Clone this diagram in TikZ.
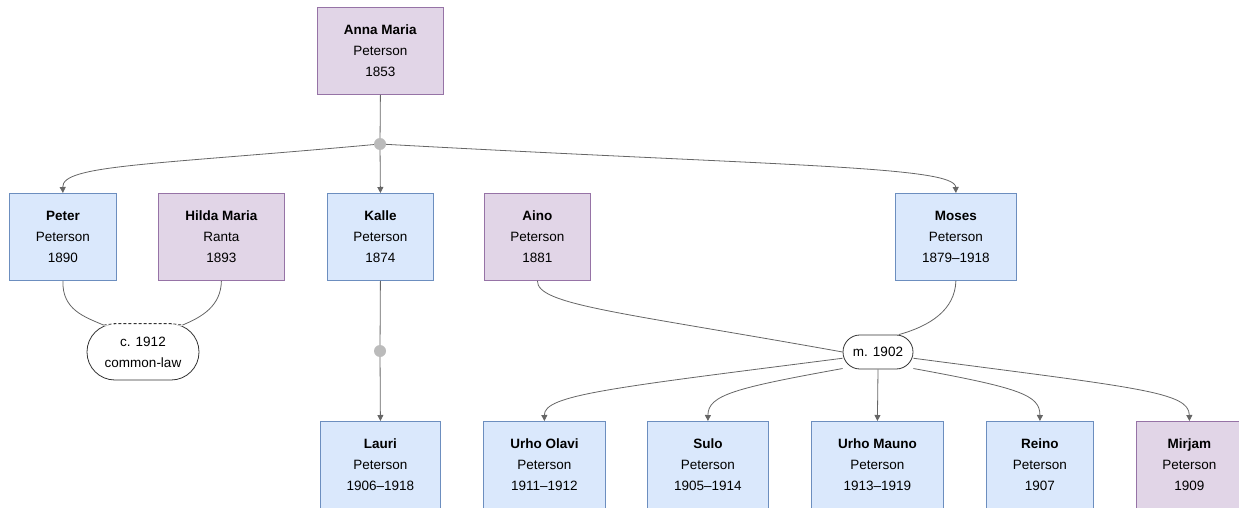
\documentclass[tikz,border=0pt]{standalone}
\usepackage{fontspec}
\setmainfont{Liberation Sans}
\usetikzlibrary{arrows.meta,calc}
\definecolor{bluefill}{HTML}{DAE8FC}
\definecolor{bluedraw}{HTML}{6C8EBF}
\definecolor{purpfill}{HTML}{E1D5E7}
\definecolor{purpdraw}{HTML}{9673A6}
\definecolor{edgegray}{HTML}{666666}
\definecolor{dotgray}{HTML}{BBBBBB}
\tikzset{
  person/.style={rectangle, draw, line width=0.8pt, inner sep=0pt, align=center,
    minimum height=87pt, anchor=north west,
    font=\fontsize{13.5}{21}\selectfont},
  male/.style={person, fill=bluefill, draw=bluedraw},
  female/.style={person, fill=purpfill, draw=purpdraw},
  junction/.style={circle, fill=dotgray, inner sep=0pt, minimum size=12pt},
  union/.style={rectangle, fill=white, draw=black!80, line width=0.8pt, align=center,
    inner sep=0pt, font=\fontsize{13.5}{21}\selectfont},
  link/.style={draw=edgegray, line width=0.8pt},
  arr/.style={link, -{Triangle[length=6pt,width=6pt]}},
}
\begin{document}
\begin{tikzpicture}[x=1pt,y=-1pt]
\useasboundingbox (0,0) rectangle (1239,508);

% generation 1
\node[female, minimum width=126pt] (anna) at (317,7) {\textbf{Anna Maria}\\Peterson\\1853};

% generation 2
\node[male, minimum width=107pt] (peter) at (9,193) {\textbf{Peter}\\Peterson\\1890};
\node[female, minimum width=126pt] (hilda) at (158,193) {\textbf{Hilda Maria}\\Ranta\\1893};
\node[male, minimum width=106pt] (kalle) at (327,193) {\textbf{Kalle}\\Peterson\\1874};
\node[female, minimum width=106pt] (aino) at (484,193) {\textbf{Aino}\\Peterson\\1881};
\node[male, minimum width=121pt] (moses) at (895,193) {\textbf{Moses}\\Peterson\\1879–1918};

% generation 3
\node[male, minimum width=120pt] (lauri) at (320,421) {\textbf{Lauri}\\Peterson\\1906–1918};
\node[male, minimum width=122pt] (urhoo) at (483,421) {\textbf{Urho Olavi}\\Peterson\\1911–1912};
\node[male, minimum width=121pt] (sulo) at (647,421) {\textbf{Sulo}\\Peterson\\1905–1914};
\node[male, minimum width=132pt] (urhom) at (811,421) {\textbf{Urho Mauno}\\Peterson\\1913–1919};
\node[male, minimum width=107pt] (reino) at (986,421) {\textbf{Reino}\\Peterson\\1907};
\node[female, minimum width=106pt] (mirjam) at (1136,421) {\textbf{Mirjam}\\Peterson\\1909};

% junctions and unions (stadium shapes)
\node[junction] (j1) at (380,144) {};
\node[junction] (j2) at (380,351) {};
\node[union, minimum width=112pt, minimum height=56pt, rounded corners=27.9pt] (cl) at (143,352) {c. 1912\\common-law};
\node[union, minimum width=70pt, minimum height=34pt, rounded corners=16.9pt] (m) at (878,352) {m. 1902};

% common-law link: dashed top between the partners' lines
\coordinate (clL) at ($(cl.north west)+(17,1.5)$);
\coordinate (clR) at ($(cl.north east)+(-17,1.5)$);
\draw[white, line width=2pt] ($(cl.north west)+(28,0)$) -- ($(cl.north east)+(-28,0)$);
\draw[white, line width=2pt] (clL) -- ($(cl.north west)+(28,0)$);
\draw[white, line width=2pt] (clR) -- ($(cl.north east)+(-28,0)$);
\draw[black!80, line width=0.8pt, dash pattern=on 3pt off 2pt] (clL) -- ($(cl.north west)+(28,0)$) -- ($(cl.north east)+(-28,0)$) -- (clR);

% Anna Maria's children
\draw[link] (anna.south) -- (j1);
\draw[arr] (j1) .. controls (150,165) and (62,165) .. (peter.north);
\draw[arr] (j1) -- (kalle.north);
\draw[arr] (j1) .. controls (780,166) and (955,166) .. (moses.north);

% Peter and Hilda
\draw[link] (peter.south) .. controls (62,310) and (85,317) .. (clL);
\draw[link] (hilda.south) .. controls (221,306) and (202,317) .. (clR);

% Kalle to Lauri
\draw[link] (kalle.south) -- (j2);
\draw[arr] (j2) -- (lauri.north);

% Aino and Moses
\draw[link] (aino.south) .. controls (537,305) and (620,312) .. (m.west);
\draw[link] (moses.south) .. controls (955,310) and (930,326) .. (m.40);

% children of Aino and Moses
\draw[arr] (m.190) .. controls (610,388) and (544,395) .. (urhoo.north);
\draw[arr] (m.205) .. controls (735,388) and (708,395) .. (sulo.north);
\draw[arr] (m.south) -- (urhom.north);
\draw[arr] (m.335) .. controls (1020,388) and (1040,395) .. (reino.north);
\draw[arr] (m.350) .. controls (1140,388) and (1189,392) .. (mirjam.north);
\end{tikzpicture}
\end{document}
